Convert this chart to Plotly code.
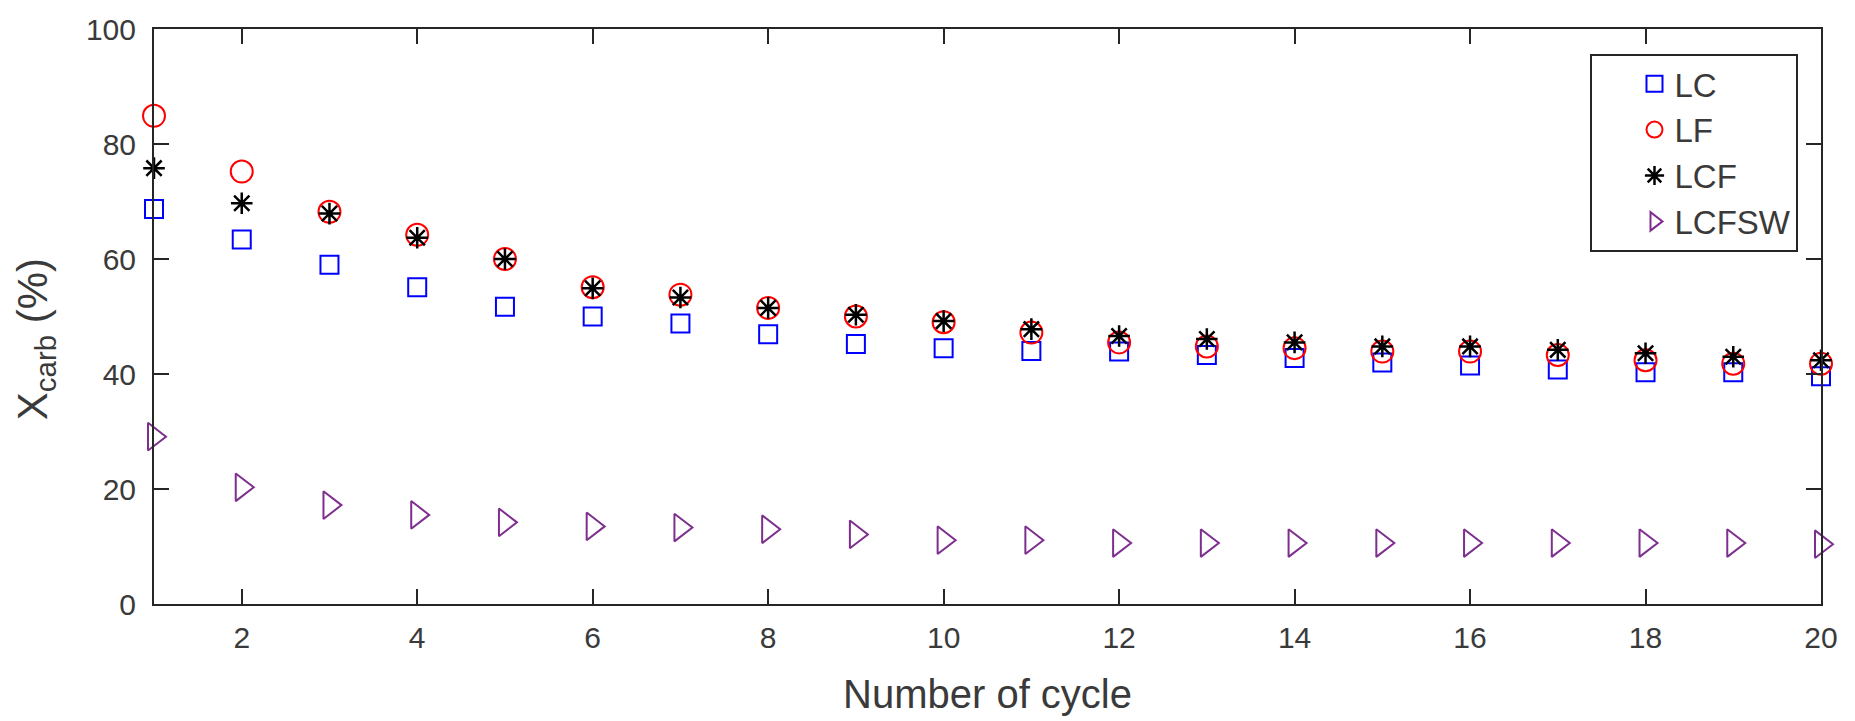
import plotly.graph_objects as go

cycles = list(range(1, 21))
lc = [68.7, 63.4, 59.0, 55.1, 51.7, 50.0, 48.8, 46.9, 45.2, 44.5,
      44.0, 43.9, 43.3, 42.8, 42.0, 41.5, 40.8, 40.3, 40.3, 39.6]
lf = [84.9, 75.2, 68.2, 64.2, 60.0, 55.1, 53.8, 51.5, 50.0, 49.0,
      47.2, 45.5, 44.8, 44.5, 43.9, 43.9, 43.3, 42.4, 41.8, 41.8]
lcf = [75.8, 69.7, 67.9, 63.7, 60.0, 54.9, 53.3, 51.5, 50.3, 49.2,
       47.8, 46.6, 46.1, 45.5, 44.8, 44.8, 44.2, 43.6, 43.0, 42.4]
lcfsw = [29.1, 20.3, 17.2, 15.5, 14.2, 13.5, 13.3, 13.0, 12.1, 11.1,
         11.1, 10.6, 10.6, 10.6, 10.6, 10.6, 10.6, 10.6, 10.6, 10.4]

xticks = [2, 4, 6, 8, 10, 12, 14, 16, 18, 20]
yticks = [0, 20, 40, 60, 80, 100]

FONT = "Liberation Sans, Arial, sans-serif"
TXT = "#3a3a3a"
AX = "#262626"

fig = go.Figure()
fig.add_trace(go.Scatter(x=cycles, y=lc, name="LC", mode="markers", cliponaxis=False,
                         marker=dict(symbol="square-open", size=18, color="#0000FF",
                                     line=dict(width=2, color="#0000FF"))))
fig.add_trace(go.Scatter(x=cycles, y=lf, name="LF", mode="markers", cliponaxis=False,
                         marker=dict(symbol="circle-open", size=22, color="#FF0000",
                                     line=dict(width=2, color="#FF0000"))))
fig.add_trace(go.Scatter(x=cycles, y=lcf, name="LCF", mode="markers", cliponaxis=False,
                         marker=dict(symbol="asterisk-open", size=18, color="#000000",
                                     line=dict(width=2.5, color="#000000"))))
fig.add_trace(go.Scatter(x=cycles, y=lcfsw, name="LCFSW", mode="markers", cliponaxis=False,
                         marker=dict(symbol="triangle-right-open", size=24, color="#7E2F8E",
                                     line=dict(width=2, color="#7E2F8E"))))

axis_common = dict(showline=True, linecolor=AX, linewidth=2, mirror="ticks",
                   ticks="inside", ticklen=15, tickwidth=2, tickcolor=AX,
                   showgrid=False, zeroline=False,
                   tickfont=dict(family=FONT, size=30, color=TXT))

fig.update_xaxes(range=[1, 20], tickvals=xticks, ticktext=[str(v) for v in xticks],
                 title=dict(text="Number of cycle", font=dict(family=FONT, size=40, color=TXT),
                            standoff=27),
                 ticklabelstandoff=6, **axis_common)
fig.update_yaxes(range=[0, 100], tickvals=yticks, ticktext=[str(v) for v in yticks],
                 ticklabelstandoff=10, **axis_common)

fig.add_annotation(text="X<sub>carb</sub> (%)", textangle=-90, showarrow=False,
                   xref="paper", yref="paper", x=-0.071, y=0.46,
                   xanchor="center", yanchor="middle",
                   font=dict(family=FONT, size=42, color=TXT))

fig.update_layout(
    width=1855, height=721,
    margin=dict(l=154, r=34, t=27, b=117),
    paper_bgcolor="white", plot_bgcolor="white",
    legend=dict(x=0.9865, y=0.957, xanchor="right", yanchor="top",
                bgcolor="white", bordercolor=AX, borderwidth=2,
                font=dict(family=FONT, size=33, color=TXT),
                indentation=42, itemsizing="trace"),
    showlegend=True,
)

fig.write_html("out.html")
